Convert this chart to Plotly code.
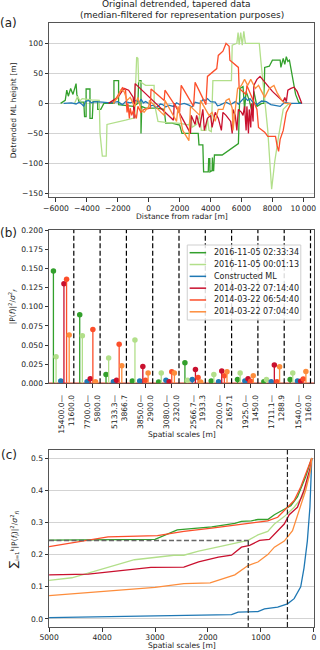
import plotly.graph_objects as go

FONT = "DejaVu Sans"
W, H = 320, 650
ML, MR, MT, MB = 49, 4, 23, 23

names = ["2016-11-05 02:33:34", "2016-11-05 00:01:13", "Constructed ML",
         "2014-03-22 07:14:40", "2014-03-22 06:54:40", "2014-03-22 07:04:40"]
colors = ["#33a02c", "#b2df8a", "#1f78b4", "#c9102e", "#fc4e2a", "#fd8d3c"]

# (a) detrended, tapered ML height profiles: (distance [m], height [m])
prof_green = [(-5700, 0), (-5400, 5), (-5300, 22), (-5200, 12), (-5050, 25), (-4900, 15), (-4700, 33),
              (-4650, 15), (-4500, 2), (-4200, 2), (-4150, -22), (-4050, -22), (-4050, 24), (-3800, 24),
              (-3800, -25), (-3650, -25), (-3600, 3), (-3300, 3), (-3300, -10), (-3100, -10), (-2900, 0),
              (-2250, 0), (-2250, 38), (-1950, 38), (-1950, -2), (-1500, -3), (-1000, -5), (-700, 0),
              (-650, 38), (-500, 38), (-500, -50), (-450, -5), (-200, -8), (500, -8), (1000, -10),
              (1100, -33), (1500, -33), (2000, -36), (2150, -50), (3200, -50), (3250, -69), (3500, -69),
              (3550, -114), (3850, -114), (3880, -92), (3950, -92), (3960, -114), (4100, -112), (4120, -90),
              (4150, -112), (4200, -112), (4250, -86), (4750, -86), (5800, -67), (5850, -30), (5900, 25),
              (6100, 28), (6200, -10), (6300, 20), (6500, 5), (6700, -15), (6800, 20), (7000, -5),
              (7300, 0), (7450, 0), (7500, 60), (7800, 62), (8000, 72), (8500, 72), (8550, 60), (8700, 75),
              (8800, 65), (8900, 78), (9000, 70), (9100, 72), (9300, 40), (9500, 15), (9700, 2), (9900, 0)]
prof_lgreen = [(-4800, 0), (-4600, 12), (-4450, 4), (-4300, 8), (-3700, 6), (-3200, 5), (-3150, -50),
               (-3000, -88), (-2750, -88), (-2700, -35), (-1500, -28), (-900, -24), (-850, 30), (-780, 77),
               (-700, 75), (-650, 36), (-550, 36), (-200, 30), (350, 30), (350, 2), (600, -30), (1200, -32),
               (1900, -33), (2600, -36), (2750, -20), (2800, -40), (3100, -35), (3300, -20), (3400, -45),
               (3700, -45), (3800, -25), (3900, -45), (4050, -47), (4150, 38), (5350, 38), (5400, 97),
               (5700, 100), (5780, 118), (5850, 98), (5950, 118), (6050, 97), (6150, 120), (6250, 100),
               (7150, 100), (7250, 72), (7450, 20), (7700, -45), (7950, -143), (8150, -97), (8400, -55),
               (8700, -10), (9000, -2), (9300, 0)]
prof_blue = [(-5500, 0), (-5000, 1), (-4700, -1), (-4500, 2), (-4300, -2), (-4200, -5), (-4100, 3),
             (-3900, 5), (-3700, 1), (-3500, 3), (-3000, 2), (-2500, 1), (-2000, 3), (-1700, -2),
             (-1500, 3), (-1200, 1), (-800, 5), (-600, 2), (-500, 7), (-350, 1), (-200, 3), (0, 0),
             (150, -4), (300, -3), (450, -7), (600, -5), (750, -1), (900, -2), (1100, -6), (1300, -3),
             (1600, -5), (1800, 1), (2000, -2), (2300, 0), (2600, -3), (2800, -6), (3000, 2), (3300, 0),
             (3500, 6), (3700, 5), (3800, 8), (4000, 3), (4300, 2), (4450, -4), (4600, -3), (5000, 2),
             (5300, -2), (5600, 3), (5800, -1), (6000, 5), (6200, 10), (6400, 5), (6550, 8), (6700, 3),
             (7000, -2), (7300, 4), (7600, 3), (7900, -2), (8200, -3), (8500, -5), (8800, 2), (9100, 0),
             (9500, 0), (9900, 0)]
prof_dred = [(-2600, 0), (-2000, 10), (-1600, 25), (-1300, 22), (-1000, 10), (-950, -25), (-880, 33),
             (1600, -28), (1650, 0), (2700, -50), (2750, -20), (3000, -35), (3100, -20), (3300, -40),
             (3500, -10), (3600, -45), (3800, -25), (4000, -20), (4100, -40), (4300, -15), (4500, -25),
             (4700, -45), (4800, -15), (5000, -20), (5300, -30), (5400, -50), (5450, -10), (5600, -20),
             (5700, -45), (5800, -10), (6000, -15), (6100, -20), (6200, -5), (6300, -45), (6350, -5),
             (6450, -50), (6500, -10), (6600, -40), (6650, 0), (6750, -30), (6800, 30), (7000, 40),
             (7200, 45), (8000, 20), (8700, 3), (8800, 10), (8900, 3), (9000, 22), (9200, 25), (9400, 27),
             (9600, 20), (9800, 5), (9900, 0)]
prof_red = [(-2300, 0), (-2000, 12), (-1700, 26), (-1500, 22), (-1400, -15), (-1350, 0), (-1250, -25),
            (-1200, -8), (-1100, -20), (-1000, -12), (-800, -25), (-700, -5), (-500, -15), (-300, -10),
            (100, -8), (150, 24), (1000, 5), (1050, 22), (2000, -15), (2100, 30), (2900, -5), (3000, 35),
            (3700, -2), (3800, 45), (4100, 52), (4400, 58), (4500, 80), (4800, 87), (5000, 100),
            (5200, 95), (5250, 72), (5800, 60), (5850, 25), (6300, 15), (6350, 30), (7000, -10),
            (7100, -40), (7500, -48), (7700, -55), (8200, -55), (8300, -70), (8400, -80), (8500, -60),
            (8700, -45), (8900, -15), (9200, 0)]
prof_orange = [(-2300, 0), (-2000, 10), (-1800, 22), (-1600, 20), (-1400, 5), (-1200, 10), (-900, -5),
               (-700, 10), (-500, -10), (-300, -15), (0, -5), (50, 5), (800, -15), (1000, -20), (1050, 5),
               (1800, -30), (1900, -5), (2200, -45), (2600, -62), (2650, -30), (2700, -5), (3300, -20),
               (3350, 5), (3900, -20), (4100, -15), (4300, -30), (4500, -10), (4800, -10), (5000, 5),
               (5200, 8), (5400, -8), (5450, -45), (5600, -10), (5750, 25), (6000, 30), (6200, 40),
               (6400, 30), (6600, 40), (6900, 25), (7100, 30), (7300, 20), (7500, 10), (7800, 25),
               (8100, 30), (8300, 18), (8600, 5), (8800, 0), (9200, 0)]

# (b) normalised power per spatial-scale band
scale_hi = ["15400.0", "7700.0", "5133.3", "3850.0", "3080.0", "2566.7", "2200.0", "1925.0", "1711.1", "1540.0"]
scale_lo = ["11600.0", "5800.0", "3866.7", "2900.0", "2320.0", "1933.3", "1657.1", "1450.0", "1288.9", "1160.0"]
pow_green = [0.1465, 0.0896, 0.0114, 0.003, 0.0018, 0.0268, 0.003, 0.005, 0.002, 0.005]
pow_lgreen = [0.0346, 0.062, 0.033, 0.0566, 0.0136, 0.004, 0.0114, 0.0136, 0.005, 0.0136]
pow_blue = [0.003, 0.002, 0.002, 0.003, 0.004, 0.005, 0.002, 0.003, 0.002, 0.003]
pow_dred = [0.130, 0.006, 0.004, 0.022, 0.002, 0.018, 0.0162, 0.006, 0.024, 0.0026]
pow_red = [0.136, 0.0704, 0.051, 0.004, 0.015, 0.0075, 0.010, 0.0026, 0.002, 0.0057]
pow_orange = [0.063, 0.002, 0.023, 0.0136, 0.0136, 0.0018, 0.015, 0.010, 0.0215, 0.0154]
stem_offset = [-0.5, -0.4, -0.22, -0.1, 0.0, 0.1]
band_edge = 0.275

# (c) cumulative normalised power vs spatial scale
cum_x_green = [5000, 3000, 2580, 2456, 1928, 1493, 1368, 1182, 1057, 871, 746, 560, 435, 311, 155, 40]
cum_y_green = [0.245, 0.247, 0.277, 0.279, 0.286, 0.297, 0.303, 0.305, 0.309, 0.309, 0.324, 0.341, 0.352, 0.379, 0.442, 0.5]
cum_x_lgreen = [5000, 4570, 3389, 3016, 2643, 2456, 2177, 1804, 1430, 1244, 1057, 871, 746, 560, 373, 218, 93, 40]
cum_y_lgreen = [0.12, 0.128, 0.184, 0.19, 0.198, 0.198, 0.211, 0.224, 0.237, 0.244, 0.261, 0.272, 0.295, 0.318, 0.347, 0.379, 0.442, 0.5]
cum_x_blue = [5000, 2456, 1555, 1430, 1057, 933, 684, 498, 373, 249, 187, 124, 75, 40]
cum_y_blue = [0.004, 0.0105, 0.0137, 0.021, 0.023, 0.0316, 0.037, 0.047, 0.063, 0.1, 0.158, 0.242, 0.347, 0.5]
cum_x_dred = [5000, 4260, 3078, 2456, 2177, 1804, 1555, 1368, 1213, 1026, 840, 684, 560, 466, 311, 187, 62, 40]
cum_y_dred = [0.137, 0.139, 0.16, 0.161, 0.177, 0.192, 0.198, 0.223, 0.229, 0.244, 0.247, 0.274, 0.295, 0.324, 0.347, 0.4, 0.474, 0.5]
cum_x_red = [5000, 3887, 2953, 2456, 1928, 1306, 871, 684, 498, 373, 249, 124, 40]
cum_y_red = [0.225, 0.255, 0.259, 0.272, 0.282, 0.295, 0.305, 0.316, 0.347, 0.368, 0.41, 0.463, 0.5]
cum_x_orange = [5000, 3000, 2456, 1959, 1493, 1244, 1057, 871, 746, 560, 404, 342, 249, 155, 62, 40]
cum_y_orange = [0.0726, 0.098, 0.11, 0.112, 0.137, 0.166, 0.177, 0.2, 0.223, 0.242, 0.274, 0.305, 0.347, 0.4, 0.463, 0.5]
split_scale = 1240
split_level = 0.244
small_scale = 500

a_xrange = [-6450, 10690]
a_yrange = [-156, 134]
b_xrange = [-0.668, 9.408]
b_yrange = [0, 0.2002]
c_xrange = [5002, -2]
c_yrange = [-0.025, 0.525]


def fx(px):
    return (px - ML) / (W - ML - MR)


def fy(py):
    return (H - MB - py) / (H - MT - MB)


fig = go.Figure()

# panel (a)
for col, prof in zip(colors, [prof_green, prof_lgreen, prof_blue, prof_dred, prof_red, prof_orange]):
    xs, ys = zip(*prof)
    fig.add_trace(go.Scatter(x=xs, y=ys, mode="lines", line=dict(color=col, width=1.3),
                             xaxis="x", yaxis="y", showlegend=False, hoverinfo="skip"))

# panel (b)
fig.add_trace(go.Scatter(x=b_xrange, y=[0, 0], mode="lines", line=dict(color="#e0402a", width=1.6),
                         xaxis="x2", yaxis="y2", showlegend=False, hoverinfo="skip"))
powers = [pow_green, pow_lgreen, pow_blue, pow_dred, pow_red, pow_orange]
for i, (col, pw) in enumerate(zip(colors, powers)):
    px_ = [k + stem_offset[i] for k in range(len(pw))]
    sx, sy = [], []
    for xv, v in zip(px_, pw):
        sx += [xv, xv, None]
        sy += [0, v, None]
    fig.add_trace(go.Scatter(x=sx, y=sy, mode="lines", line=dict(color=col, width=1.3),
                             xaxis="x2", yaxis="y2", showlegend=False, hoverinfo="skip"))
    fig.add_trace(go.Scatter(x=px_, y=pw, mode="markers", marker=dict(color=col, size=5.5),
                             xaxis="x2", yaxis="y2", showlegend=False, hoverinfo="skip"))

# panel (c)
cums = [(cum_x_green, cum_y_green), (cum_x_lgreen, cum_y_lgreen), (cum_x_blue, cum_y_blue),
        (cum_x_dred, cum_y_dred), (cum_x_red, cum_y_red), (cum_x_orange, cum_y_orange)]
for col, (cx, cy) in zip(colors, cums):
    fig.add_trace(go.Scatter(x=cx, y=cy, mode="lines", line=dict(color=col, width=1.3),
                             xaxis="x3", yaxis="y3", showlegend=False, hoverinfo="skip"))

tickfont = dict(family=FONT, size=7.6, color="#222")
axis_common = dict(showline=True, linecolor="#555", linewidth=1, mirror=True, ticks="outside",
                   ticklen=3.5, tickwidth=1, tickcolor="#333", tickfont=tickfont,
                   zeroline=False, showgrid=False)
grid = dict(showgrid=True, gridcolor="#d3d3d3", gridwidth=1)

a_ticks = list(range(-6000, 10001, 2000))
a_ticktext = [f"{t}".replace("-", "\u2212") if abs(t) < 10000 else "10\u2009000" for t in a_ticks]

shapes = []
for k in range(len(scale_hi)):
    shapes.append(dict(type="line", xref="x2", yref="y2 domain", x0=k + band_edge, x1=k + band_edge,
                       y0=0, y1=1, line=dict(color="black", width=1.2, dash="5px,2.5px")))
shapes += [
    dict(type="line", xref="x3", yref="y3", x0=c_xrange[0], x1=split_scale, y0=split_level, y1=split_level,
         line=dict(color="#666", width=1.5, dash="5px,2.5px")),
    dict(type="line", xref="x3", yref="y3", x0=split_scale, x1=split_scale, y0=split_level, y1=c_yrange[0],
         line=dict(color="#222", width=1.2, dash="5px,2.5px")),
    dict(type="line", xref="x3", yref="y3 domain", x0=small_scale, x1=small_scale, y0=0, y1=1,
         line=dict(color="#222", width=1.2, dash="5px,2.5px")),
]

# legend box drawn by hand (inside panel b)
shapes.append(dict(type="rect", xref="paper", yref="paper", x0=fx(188.3), x1=fx(302.7), y0=fy(320), y1=fy(245),
                   line=dict(color="#cfcfcf", width=1), fillcolor="rgba(255,255,255,0.85)"))
annotations = []
for i, (name, col) in enumerate(zip(names, colors)):
    yc = 252.7 + i * 11.82
    shapes.append(dict(type="line", xref="paper", yref="paper", x0=fx(190.7), x1=fx(207.3),
                       y0=fy(yc), y1=fy(yc), line=dict(color=col, width=1.5)))
    annotations.append(dict(text=name, xref="paper", yref="paper", x=fx(213.3), y=fy(yc), xanchor="left",
                            yanchor="middle", showarrow=False, font=dict(family=FONT, size=8, color="#222")))


def label(text, px, py, size=7.6, angle=0):
    annotations.append(dict(text=text, xref="paper", yref="paper", x=fx(px), y=fy(py), xanchor="center",
                            yanchor="middle", showarrow=False, textangle=angle,
                            font=dict(family=FONT, size=size, color="#222")))


label("Original detrended, tapered data", 177, 4.5, size=9)
label("(median-filtered for representation purposes)", 183.5, 15.5, size=9)
label("(a)", 8.5, 22.5, size=12)
label("(b)", 8.5, 233, size=12)
label("(c)", 8.5, 455, size=12)
label("Distance from radar [m]", 182.5, 216.5)
label("Detrended ML height [m]", 13, 110, angle=-90)
label("|P(<i>f</i>)|<sup>2</sup>/<i>σ</i><sup>2</sup><sub><i>f</i></sub>", 12, 306, angle=-90)
label("Spatial scales [m]", 182.5, 435)
label("<span style='font-size:11px'>∑</span><sub>i=1</sub><sup>k</sup>|P(<i>f<sub>i</sub></i>)|<sup>2</sup>/<i>σ</i><sup>2</sup><sub><i>f</i>i</sub>",
      13, 540, angle=-90)
label("Spatial scales [m]", 182.5, 645.5)

fig.update_layout(
    width=W, height=H, margin=dict(l=ML, r=MR, t=MT, b=MB, pad=0),
    paper_bgcolor="white", plot_bgcolor="white", showlegend=False,
    font=dict(family=FONT, size=7.6, color="#222"),
    xaxis=dict(**axis_common, anchor="y", domain=[0, 1], range=a_xrange,
               tickvals=a_ticks, ticktext=a_ticktext),
    yaxis=dict(**{**axis_common, **grid}, anchor="x", domain=[fy(197), fy(23)], range=a_yrange,
               tickvals=list(range(-150, 101, 50))),
    xaxis2=dict(**axis_common, anchor="y2", domain=[0, 1], range=b_xrange, layer="below traces",
                tickvals=list(range(len(scale_hi))),
                ticktext=[f"{h}\u2014<br>{l}" for h, l in zip(scale_hi, scale_lo)],
                tickangle=-90, ticklabelstandoff=4),
    yaxis2=dict(**axis_common, anchor="x2", domain=[fy(383.3), fy(230)], range=b_yrange,
                tickvals=[i * 0.025 for i in range(9)], tickformat=".3f"),
    xaxis3=dict(**axis_common, anchor="y3", domain=[0, 1], range=c_xrange, ticklabelstandoff=-1,
                tickvals=[5000, 4000, 3000, 2000, 1000, 0]),
    yaxis3=dict(**{**axis_common, **grid}, anchor="x3", domain=[0, fy(450)], range=c_yrange,
                tickvals=[0, 0.1, 0.2, 0.3, 0.4, 0.5], tickformat=".1f"),
    shapes=shapes, annotations=annotations,
)

fig.write_html("out.html", config={"displayModeBar": False},
               post_script="document.body.style.margin='0';document.body.style.overflow='hidden';")
